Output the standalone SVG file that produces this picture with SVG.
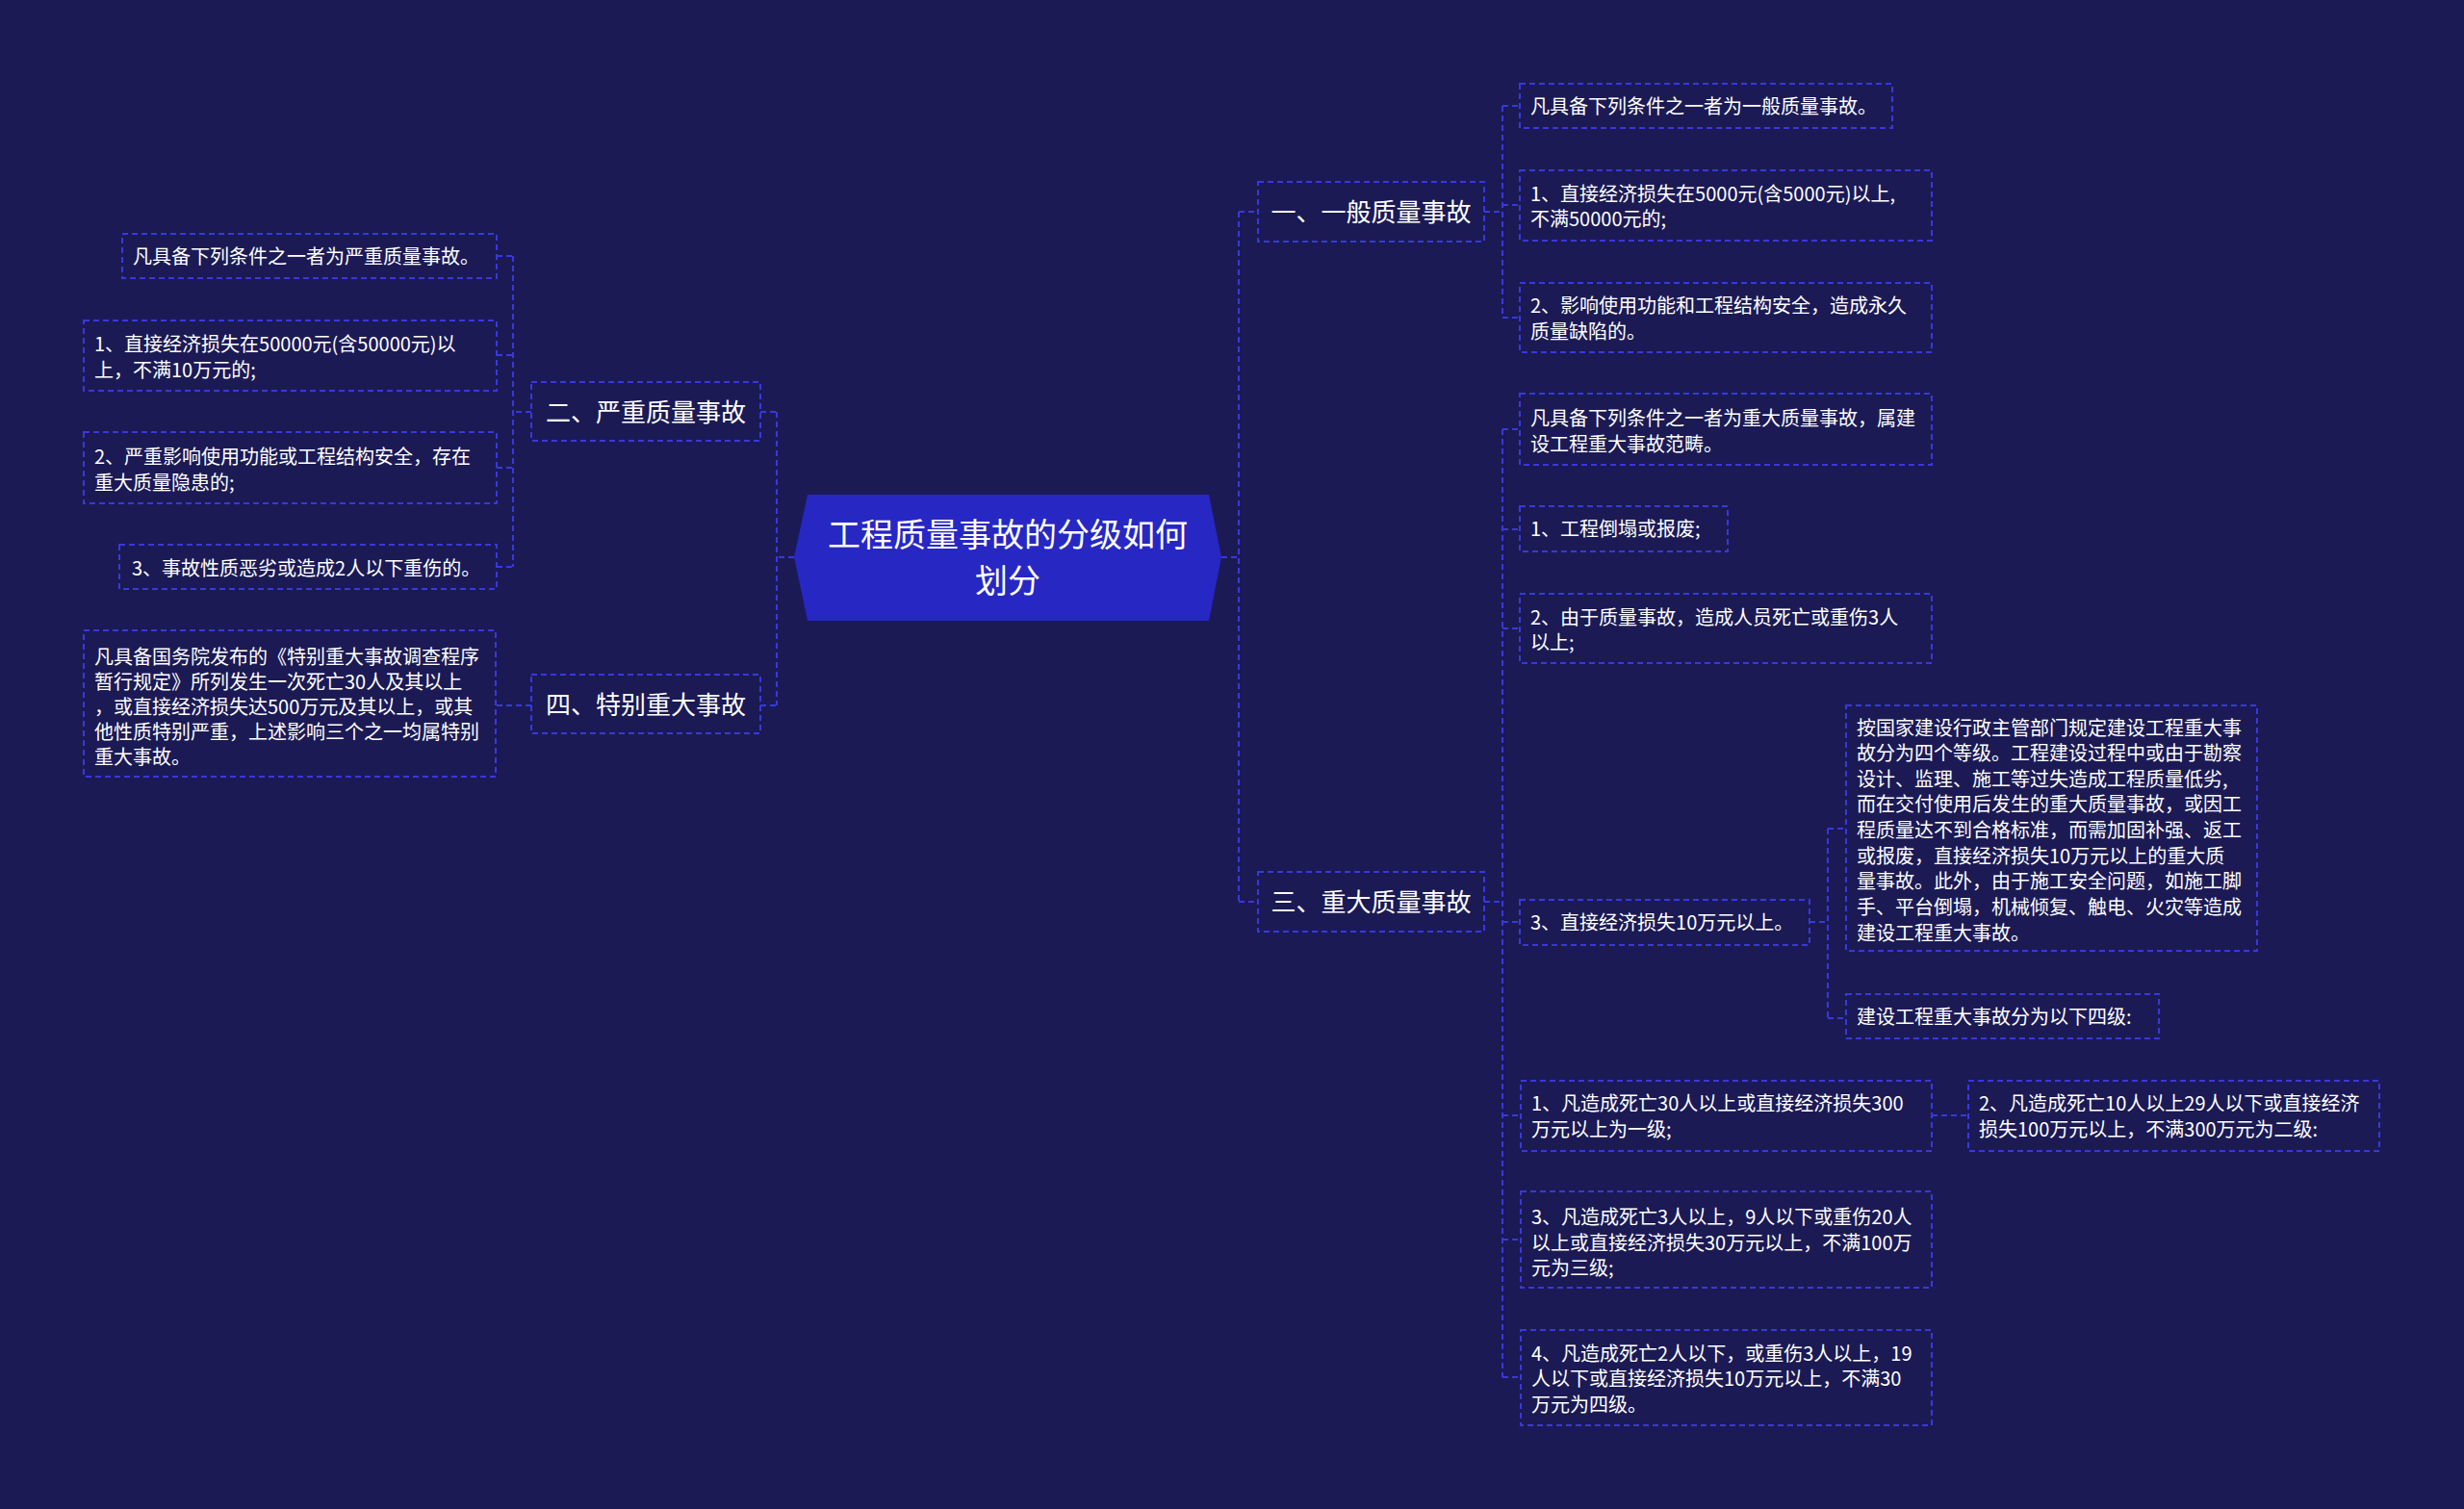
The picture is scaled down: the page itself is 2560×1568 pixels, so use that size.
<svg xmlns="http://www.w3.org/2000/svg" width="2560" height="1568" viewBox="0 0 2560 1568">
<style>
text{font-family:"Noto Sans CJK SC","Noto Sans",sans-serif;fill:#ffffff}
.t20{font-size:20px}
.t26{font-size:26px;text-anchor:middle}
.t34{font-size:34px;text-anchor:middle}
.box{fill:none;stroke:#3838dc;stroke-width:2;stroke-dasharray:6 4}
.ln{fill:none;stroke:#3838dc;stroke-width:2;stroke-dasharray:6 4}
</style>
<rect x="0" y="0" width="2560" height="1568" fill="#1b1a55"/>

<g id="connectors">
<path class="ln" d="M825 579H807M807 428V733M790 428H807M790 733H807"/>
<path class="ln" d="M552 428H533M533 266V589M516 266H533M516 369H533M516 486H533M516 589H533"/>
<path class="ln" d="M552 733H515"/>
<path class="ln" d="M1269 579H1287M1287 220V937M1287 220H1307M1287 937H1307"/>
<path class="ln" d="M1542 220H1561M1561 110V330M1561 110H1579M1561 213H1579M1561 330H1579"/>
<path class="ln" d="M1542 937H1561M1561 446V1431M1561 446H1579M1561 550H1579M1561 653H1579M1561 958H1579M1561 1159H1580M1561 1288H1580M1561 1431H1580"/>
<path class="ln" d="M1880 958H1899M1899 861V1058M1899 861H1918M1899 1058H1918"/>
<path class="ln" d="M2007 1159H2045"/>
</g>

<g id="center">
<polygon points="839,514 1256,514 1269,579 1256,645 839,645 825,579" fill="#2727c4"/>
<text class="t34" x="1047" y="568">工程质量事故的分级如何</text>
<text class="t34" x="1047" y="616">划分</text>
</g>

<g id="n1">
<rect class="box" x="1307" y="189" width="235" height="62"/>
<text class="t26" x="1424.5" y="230">一、一般质量事故</text>
</g>
<g id="n1a">
<rect class="box" x="1579" y="87" width="387" height="46"/>
<text class="t20" x="1590" y="118">凡具备下列条件之一者为一般质量事故。</text>
</g>
<g id="n1b">
<rect class="box" x="1579" y="177" width="428" height="73"/>
<text class="t20" x="1590" y="209">1、直接经济损失在5000元(含5000元)以上,</text>
<text class="t20" x="1590" y="235">不满50000元的;</text>
</g>
<g id="n1c">
<rect class="box" x="1579" y="294" width="428" height="72"/>
<text class="t20" x="1590" y="325">2、影响使用功能和工程结构安全，造成永久</text>
<text class="t20" x="1590" y="352">质量缺陷的。</text>
</g>

<g id="n3">
<rect class="box" x="1307" y="906" width="235" height="62"/>
<text class="t26" x="1424.5" y="947">三、重大质量事故</text>
</g>
<g id="n3a">
<rect class="box" x="1579" y="409" width="428" height="74"/>
<text class="t20" x="1590" y="442">凡具备下列条件之一者为重大质量事故，属建</text>
<text class="t20" x="1590" y="469">设工程重大事故范畴。</text>
</g>
<g id="n3b">
<rect class="box" x="1579" y="526" width="216" height="47"/>
<text class="t20" x="1590" y="557">1、工程倒塌或报废;</text>
</g>
<g id="n3c">
<rect class="box" x="1579" y="617" width="428" height="72"/>
<text class="t20" x="1590" y="649">2、由于质量事故，造成人员死亡或重伤3人</text>
<text class="t20" x="1590" y="675">以上;</text>
</g>
<g id="n3d">
<rect class="box" x="1579" y="935" width="301" height="47"/>
<text class="t20" x="1590" y="966">3、直接经济损失10万元以上。</text>
</g>
<g id="n3d1">
<rect class="box" x="1918" y="733" width="427" height="255"/>
<text class="t20" x="1929" y="764">按国家建设行政主管部门规定建设工程重大事</text>
<text class="t20" x="1929" y="790">故分为四个等级。工程建设过程中或由于勘察</text>
<text class="t20" x="1929" y="817">设计、监理、施工等过失造成工程质量低劣,</text>
<text class="t20" x="1929" y="843">而在交付使用后发生的重大质量事故，或因工</text>
<text class="t20" x="1929" y="870">程质量达不到合格标准，而需加固补强、返工</text>
<text class="t20" x="1929" y="897">或报废，直接经济损失10万元以上的重大质</text>
<text class="t20" x="1929" y="923">量事故。此外，由于施工安全问题，如施工脚</text>
<text class="t20" x="1929" y="950">手、平台倒塌，机械倾复、触电、火灾等造成</text>
<text class="t20" x="1929" y="977">建设工程重大事故。</text>
</g>
<g id="n3d2">
<rect class="box" x="1918" y="1033" width="325" height="46"/>
<text class="t20" x="1929" y="1064">建设工程重大事故分为以下四级:</text>
</g>
<g id="n3e">
<rect class="box" x="1580" y="1123" width="427" height="73"/>
<text class="t20" x="1591" y="1154">1、凡造成死亡30人以上或直接经济损失300</text>
<text class="t20" x="1591" y="1181">万元以上为一级;</text>
</g>
<g id="n3e1">
<rect class="box" x="2045" y="1123" width="427" height="73"/>
<text class="t20" x="2056" y="1154">2、凡造成死亡10人以上29人以下或直接经济</text>
<text class="t20" x="2056" y="1181">损失100万元以上，不满300万元为二级:</text>
</g>
<g id="n3f">
<rect class="box" x="1580" y="1238" width="427" height="100"/>
<text class="t20" x="1591" y="1272">3、凡造成死亡3人以上，9人以下或重伤20人</text>
<text class="t20" x="1591" y="1299">以上或直接经济损失30万元以上，不满100万</text>
<text class="t20" x="1591" y="1325">元为三级;</text>
</g>
<g id="n3g">
<rect class="box" x="1580" y="1382" width="427" height="99"/>
<text class="t20" x="1591" y="1414">4、凡造成死亡2人以下，或重伤3人以上，19</text>
<text class="t20" x="1591" y="1440">人以下或直接经济损失10万元以上，不满30</text>
<text class="t20" x="1591" y="1467">万元为四级。</text>
</g>

<g id="n2">
<rect class="box" x="552" y="397" width="238" height="61"/>
<text class="t26" x="671" y="438">二、严重质量事故</text>
</g>
<g id="n2a">
<rect class="box" x="127" y="243" width="389" height="46"/>
<text class="t20" x="138" y="274">凡具备下列条件之一者为严重质量事故。</text>
</g>
<g id="n2b">
<rect class="box" x="87" y="333" width="429" height="73"/>
<text class="t20" x="98" y="365">1、直接经济损失在50000元(含50000元)以</text>
<text class="t20" x="98" y="392">上，不满10万元的;</text>
</g>
<g id="n2c">
<rect class="box" x="87" y="449" width="429" height="74"/>
<text class="t20" x="98" y="482">2、严重影响使用功能或工程结构安全，存在</text>
<text class="t20" x="98" y="509">重大质量隐患的;</text>
</g>
<g id="n2d">
<rect class="box" x="124" y="566" width="392" height="46"/>
<text class="t20" x="137" y="598">3、事故性质恶劣或造成2人以下重伤的。</text>
</g>

<g id="n4">
<rect class="box" x="552" y="701" width="238" height="61"/>
<text class="t26" x="671" y="742">四、特别重大事故</text>
</g>
<g id="n4a">
<rect class="box" x="87" y="655" width="428" height="152"/>
<text class="t20" x="98" y="690">凡具备国务院发布的《特别重大事故调查程序</text>
<text class="t20" x="98" y="716">暂行规定》所列发生一次死亡30人及其以上</text>
<text class="t20" x="98" y="742">，或直接经济损失达500万元及其以上，或其</text>
<text class="t20" x="98" y="768">他性质特别严重，上述影响三个之一均属特别</text>
<text class="t20" x="98" y="794">重大事故。</text>
</g>
</svg>
